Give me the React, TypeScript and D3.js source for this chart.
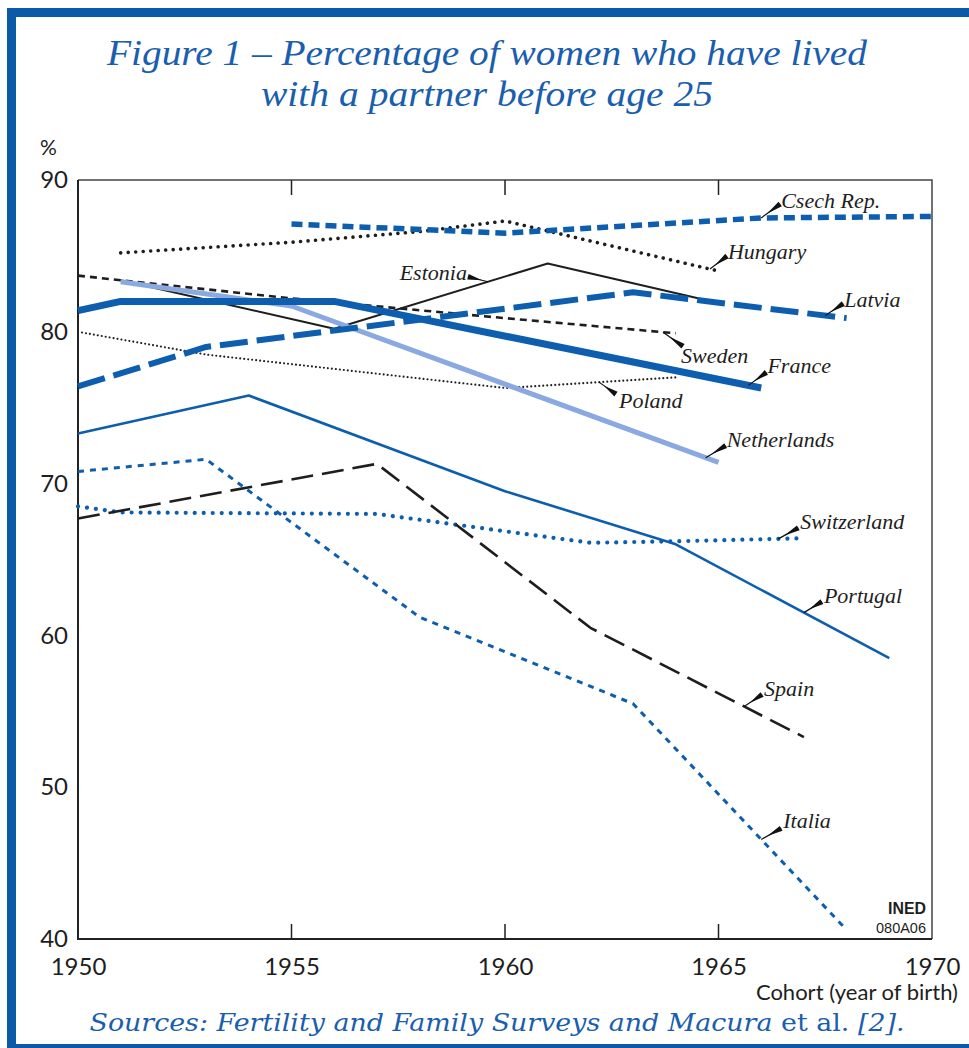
import React, { useRef, useEffect } from 'react';
import * as d3 from 'd3';

// x / y ticks
const xTicks = [1950, 1955, 1960, 1965, 1970];
const innerXTicks = [1955, 1960, 1965];
const yTicks = [40, 50, 60, 70, 80, 90];

// series, [cohort, %]
const czechRep = [[1955, 87.1], [1960, 86.5], [1966, 87.5], [1970, 87.6]];
const hungary = [[1951, 85.2], [1955, 85.9], [1958, 86.6], [1960, 87.3], [1965, 84.0]];
const estonia = [[1951, 83.4], [1956, 80.2], [1961, 84.5], [1965, 81.9]];
const latvia = [[1950, 76.4], [1953, 79.0], [1963, 82.6], [1968, 80.9]];
const sweden = [[1950, 83.7], [1955, 82.2], [1960, 80.9], [1964, 79.9]];
const france = [[1950, 81.4], [1951, 82.0], [1956, 82.0], [1966, 76.3]];
const netherlands = [[1951, 83.3], [1955, 81.7], [1965, 71.4]];
const poland = [[1950, 80.0], [1953, 78.5], [1960, 76.3], [1964, 77.0]];
const portugal = [[1950, 73.3], [1954, 75.8], [1960, 69.5], [1964, 66.0], [1969, 58.5]];
const switzerland = [[1950, 68.5], [1951, 68.1], [1957, 68.0], [1962, 66.1], [1964, 66.2], [1967, 66.4]];
const spain = [[1950, 67.7], [1957, 71.3], [1962, 60.5], [1967, 53.3]];
const italia = [[1950, 70.8], [1953, 71.6], [1958, 61.2], [1963, 55.5], [1968, 40.6]];

const BLUE = '#0d5eae';
const LIGHT = '#8aa9e0';
const DARK = '#1e1e1e';

const series = [
  { name: 'Hungary', data: hungary, color: DARK, width: 3.6, dash: '0.01,7.5', cap: 'round' },
  { name: 'Csech Rep.', data: czechRep, color: BLUE, width: 5.5, dash: '11,6', cap: 'butt' },
  { name: 'Poland', data: poland, color: '#222', width: 2.1, dash: '0.01,4', cap: 'round' },
  { name: 'Sweden', data: sweden, color: DARK, width: 2.6, dash: '7,5', cap: 'butt' },
  { name: 'Estonia', data: estonia, color: DARK, width: 2, dash: null, cap: 'butt' },
  { name: 'Netherlands', data: netherlands, color: LIGHT, width: 5, dash: null, cap: 'butt' },
  { name: 'Latvia', data: latvia, color: BLUE, width: 6, dash: '28,9', cap: 'butt' },
  { name: 'France', data: france, color: BLUE, width: 7, dash: null, cap: 'butt' },
  { name: 'Portugal', data: portugal, color: BLUE, width: 2.6, dash: null, cap: 'butt' },
  { name: 'Switzerland', data: switzerland, color: BLUE, width: 4.2, dash: '0.01,9', cap: 'round' },
  { name: 'Spain', data: spain, color: DARK, width: 2.6, dash: '22,9', cap: 'butt' },
  { name: 'Italia', data: italia, color: BLUE, width: 3, dash: '6,6', cap: 'butt' },
];

// labels: year where the arrow touches the line, arrow end offset, text offset from arrow end
const labels = [
  { name: 'Csech Rep.', year: 1966.0, ex: 19, ey: -14, tx: 1, ty: 4, anchor: 'start' },
  { name: 'Hungary', year: 1964.8, ex: 17, ey: -13, tx: 1, ty: 3, anchor: 'start' },
  { name: 'Estonia', year: 1959.6, ex: -20, ey: -5, tx: -1, ty: 3, anchor: 'end' },
  { name: 'Latvia', year: 1967.5, ex: 18, ey: -12, tx: 1, ty: 3, anchor: 'start' },
  { name: 'Sweden', year: 1963.7, ex: 20, ey: 14, tx: -2, ty: 17, anchor: 'start' },
  { name: 'France', year: 1965.7, ex: 18, ey: -13, tx: 1, ty: 1, anchor: 'start' },
  { name: 'Poland', year: 1962.2, ex: 17, ey: 12, tx: 3, ty: 14, anchor: 'start' },
  { name: 'Netherlands', year: 1964.7, ex: 20, ey: -12, tx: 1, ty: 1, anchor: 'start' },
  { name: 'Switzerland', year: 1966.4, ex: 20, ey: -11, tx: 2, ty: 1, anchor: 'start' },
  { name: 'Portugal', year: 1967.0, ex: 18, ey: -11, tx: 2, ty: 1, anchor: 'start' },
  { name: 'Spain', year: 1965.6, ex: 18, ey: -12, tx: 2, ty: 1, anchor: 'start' },
  { name: 'Italia', year: 1966.0, ex: 20, ey: -11, tx: 2, ty: 0, anchor: 'start' },
];

const valueAt = (data, year) => {
  const i = d3.bisector(d => d[0]).left(data, year);
  if (i <= 0) return data[0][1];
  if (i >= data.length) return data[data.length - 1][1];
  const [x0, y0] = data[i - 1];
  const [x1, y1] = data[i];
  return y0 + (y1 - y0) * (year - x0) / (x1 - x0);
};

const App = () => {
  const svgRef = useRef(null);

  useEffect(() => {
    const width = 969;
    const height = 1048;
    const margin = { top: 180, right: 37, bottom: 109, left: 78 };

    const svg = d3.select(svgRef.current);
    svg.selectAll('*').remove();

    const x = d3.scaleLinear()
      .domain([1950, 1970])
      .range([margin.left, width - margin.right]);
    const y = d3.scaleLinear()
      .domain([40, 90])
      .range([height - margin.bottom, margin.top]);

    svg.append('rect')
      .attr('width', width).attr('height', height).attr('fill', '#fff');

    // blue outer frame
    svg.append('rect')
      .attr('x', 11.5).attr('y', 12.5)
      .attr('width', 1000).attr('height', 1036)
      .attr('fill', 'none')
      .attr('stroke', '#0b5aa8')
      .attr('stroke-width', 9);

    // title
    const title = svg.append('g')
      .attr('fill', '#1a5eae')
      .style('font-family', '"Liberation Serif", serif')
      .style('font-style', 'italic')
      .style('font-size', '36px');
    title.append('text')
      .attr('x', 487).attr('y', 65)
      .attr('text-anchor', 'middle')
      .attr('textLength', 760).attr('lengthAdjust', 'spacingAndGlyphs')
      .text('Figure 1 – Percentage of women who have lived');
    title.append('text')
      .attr('x', 487).attr('y', 106)
      .attr('text-anchor', 'middle')
      .attr('textLength', 452).attr('lengthAdjust', 'spacingAndGlyphs')
      .text('with a partner before age 25');

    // plot frame
    const [x0, x1] = x.range();
    const [y0, y1] = y.range();
    svg.append('path')
      .attr('d', `M${x0},${y1}H${x1}V${y0}`)
      .attr('fill', 'none').attr('stroke', '#444').attr('stroke-width', 1.5);
    svg.append('path')
      .attr('d', `M${x0},${y1}V${y0}H${x1}`)
      .attr('fill', 'none').attr('stroke', '#222').attr('stroke-width', 2);

    // inner ticks top and bottom
    svg.append('g').selectAll('path')
      .data(innerXTicks)
      .join('path')
      .attr('d', d => `M${x(d)},${y0}v-15M${x(d)},${y1}v15`)
      .attr('stroke', '#222').attr('stroke-width', 1.5);

    const axisFont = 'Lato, "Open Sans", sans-serif';

    // x axis labels
    svg.append('g')
      .attr('transform', `translate(0,${y0})`)
      .call(d3.axisBottom(x).tickValues(xTicks).tickSize(0).tickPadding(0).tickFormat(d3.format('d')))
      .call(g => g.select('.domain').remove())
      .call(g => g.selectAll('text')
        .attr('dy', null).attr('y', 36)
        .attr('fill', '#1e1e1e')
        .style('font-family', axisFont).style('font-size', '24px'));

    // y axis labels
    svg.append('g')
      .attr('transform', `translate(${x0},0)`)
      .call(d3.axisLeft(y).tickValues(yTicks).tickSize(0).tickPadding(10))
      .call(g => g.select('.domain').remove())
      .call(g => g.selectAll('text')
        .attr('fill', '#1e1e1e')
        .style('font-family', axisFont).style('font-size', '24px'));

    svg.append('text')
      .attr('x', 40).attr('y', 155)
      .attr('fill', '#1e1e1e')
      .style('font-family', axisFont).style('font-size', '21px')
      .text('%');

    svg.append('text')
      .attr('x', 958).attr('y', 1000)
      .attr('text-anchor', 'end')
      .attr('fill', '#1e1e1e')
      .style('font-family', axisFont).style('font-size', '22px')
      .text('Cohort (year of birth)');

    // sources
    const src = svg.append('text')
      .attr('x', 497).attr('y', 1031)
      .attr('text-anchor', 'middle')
      .attr('textLength', 815).attr('lengthAdjust', 'spacingAndGlyphs')
      .attr('fill', '#1a5eae')
      .style('font-family', '"DejaVu Serif", serif')
      .style('font-size', '25px');
    src.append('tspan').style('font-style', 'italic')
      .text('Sources: Fertility and Family Surveys and Macura ');
    src.append('tspan').text('et al.');
    src.append('tspan').style('font-style', 'italic').text(' [2].');

    // INED stamp
    const stamp = svg.append('g')
      .attr('text-anchor', 'end')
      .attr('fill', '#1e1e1e')
      .style('font-family', '"Liberation Sans", sans-serif');
    stamp.append('text').attr('x', 926).attr('y', 914)
      .attr('textLength', 38).attr('lengthAdjust', 'spacingAndGlyphs')
      .style('font-size', '17px').style('font-weight', 'bold')
      .text('INED');
    stamp.append('text').attr('x', 926).attr('y', 933)
      .attr('textLength', 50).attr('lengthAdjust', 'spacingAndGlyphs')
      .style('font-size', '15px')
      .text('080A06');

    // lines
    const line = d3.line()
      .x(d => x(d[0]))
      .y(d => y(d[1]));

    svg.append('g')
      .attr('fill', 'none')
      .selectAll('path')
      .data(series)
      .join('path')
      .attr('d', d => line(d.data))
      .attr('stroke', d => d.color)
      .attr('stroke-width', d => d.width)
      .attr('stroke-dasharray', d => d.dash)
      .attr('stroke-linecap', d => d.cap)
      .attr('stroke-linejoin', 'round');

    // labels with arrows
    const byName = new Map(series.map(s => [s.name, s]));
    const lab = svg.append('g');
    labels.forEach(l => {
      const s = byName.get(l.name);
      const px = x(l.year);
      const py = y(valueAt(s.data, l.year));
      const qx = px + l.ex;
      const qy = py + l.ey;
      const len = Math.hypot(l.ex, l.ey);
      const nx = -l.ey / len * 2.8;
      const ny = l.ex / len * 2.8;
      const mx = px + l.ex * 0.3;
      const my = py + l.ey * 0.3;
      lab.append('line')
        .attr('x1', px).attr('y1', py).attr('x2', qx).attr('y2', qy)
        .attr('stroke', '#111').attr('stroke-width', 1.2);
      lab.append('path')
        .attr('d', `M${mx},${my}L${qx + nx},${qy + ny}L${qx - nx},${qy - ny}Z`)
        .attr('fill', '#111');
      lab.append('text')
        .attr('x', qx + l.tx).attr('y', qy + l.ty)
        .attr('text-anchor', l.anchor)
        .attr('fill', '#1e1e1e')
        .style('font-family', '"Liberation Serif", serif')
        .style('font-style', 'italic')
        .style('font-size', '22px')
        .text(l.name);
    });
  }, []);

  return (
    <div style={{ position: 'absolute', left: 0, top: 0 }}>
      <svg ref={svgRef} width={969} height={1048} style={{ display: 'block' }}></svg>
    </div>
  );
};

export default App;
